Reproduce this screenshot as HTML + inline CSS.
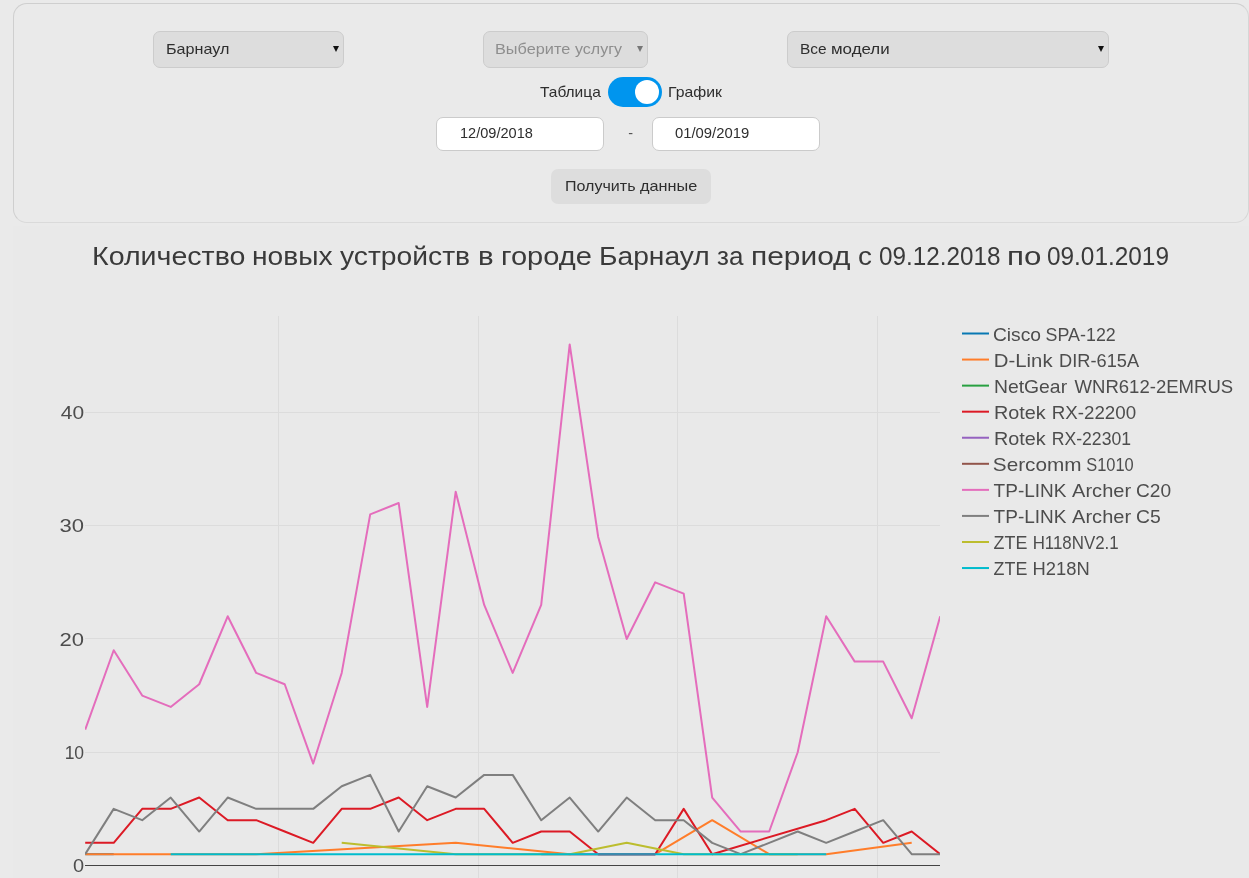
<!DOCTYPE html>
<html lang="ru">
<head>
<meta charset="utf-8">
<title>Статистика устройств</title>
<style>
html,body{margin:0;padding:0;}
body{width:1249px;height:878px;overflow:hidden;background:#eaeaea;font-family:"Liberation Sans", sans-serif;color:#2e2e2e;position:relative;}
.panel{position:absolute;left:13px;top:3px;width:1236px;height:220px;border:1px solid #cfcfcf;border-right-color:#d6d6d6;border-bottom-color:#dadada;border-radius:14px;box-sizing:border-box;}
.plotbg{position:absolute;left:13px;top:226px;width:1236px;height:652px;background:#e9e9e9;}
.sel{position:absolute;top:31px;height:37px;box-sizing:border-box;background:#dddddd;border:1px solid #cccccc;border-radius:7px;}
.arr{position:absolute;top:46px;width:0;height:0;border-left:3.2px solid transparent;border-right:3.2px solid transparent;border-top:6.2px solid #111;}
.t{position:absolute;white-space:nowrap;color:#2e2e2e;}
.t span{position:absolute;top:0;white-space:nowrap;transform-origin:0 50%;}
.tog{position:absolute;left:608px;top:76.9px;width:54.1px;height:30.6px;border-radius:16px;background:#0095ee;}
.tog i{position:absolute;left:26.9px;top:3.4px;width:24px;height:24px;border-radius:50%;background:#fff;}
.inp{position:absolute;top:117px;width:168px;height:34px;box-sizing:border-box;background:#fff;border:1px solid #cbcbcb;border-radius:7px;}
.dash{position:absolute;left:628.3px;top:122.6px;font-size:14.4px;line-height:20px;color:#555;}
.btn{position:absolute;left:551px;top:169px;width:160px;height:34.7px;border-radius:7px;background:#dddddd;}
svg{position:absolute;left:0;top:0;}
svg text{font-family:"Liberation Sans", sans-serif;font-size:18px;fill:#4d4d4d;}
</style>
</head>
<body>
<div class="plotbg"></div>
<div class="panel"></div>
<div class="sel" style="left:153px;width:191px;"></div><i class="arr" style="left:332.8px;"></i>
<div class="sel" style="left:483px;width:165px;"></div><i class="arr" style="left:637px;border-top-color:#777;"></i>
<div class="sel" style="left:787px;width:322px;"></div><i class="arr" style="left:1097.8px;"></i>
<div class="tog"><i></i></div>
<div class="inp" style="left:436px;"></div>
<div class="dash">-</div>
<div class="inp" style="left:652px;"></div>
<div class="btn"></div>
<div class="t" style="left:163.80px;top:38.91px;width:70.7px;height:20px;font-size:14.4px;line-height:20px;"><span style="left:1.88px;transform:scaleX(1.1218);">Барнаул</span></div>
<div class="t" style="left:493.60px;top:38.91px;width:133.9px;height:20px;font-size:14.4px;line-height:20px;color:#8e8e8e;"><span style="left:1.87px;transform:scaleX(1.1308);">Выберите</span> <span style="left:81.20px;transform:scaleX(1.1119);">услугу</span></div>
<div class="t" style="left:798.10px;top:38.91px;width:96.3px;height:20px;font-size:14.4px;line-height:20px;"><span style="left:1.93px;transform:scaleX(1.0739);">Все</span> <span style="left:32.73px;transform:scaleX(1.1750);">модели</span></div>
<div class="t" style="left:536.90px;top:82.11px;width:70.4px;height:20px;font-size:14.4px;line-height:20px;"><span style="left:3.00px;transform:scaleX(1.0772);">Таблица</span></div>
<div class="t" style="left:666.60px;top:82.11px;width:61.6px;height:20px;font-size:14.4px;line-height:20px;"><span style="left:1.90px;transform:scaleX(1.0958);">График</span></div>
<div class="t" style="left:458.20px;top:122.71px;width:80.8px;height:20px;font-size:14.4px;line-height:20px;"><span style="left:1.99px;transform:scaleX(1.0113);">12/09/2018</span></div>
<div class="t" style="left:671.90px;top:122.71px;width:83.2px;height:20px;font-size:14.4px;line-height:20px;"><span style="left:3.00px;transform:scaleX(1.0306);">01/09/2019</span></div>
<div class="t" style="left:562.70px;top:176.01px;width:139.4px;height:20px;font-size:14.4px;line-height:20px;"><span style="left:1.89px;transform:scaleX(1.1145);">Получить</span> <span style="left:76.90px;transform:scaleX(1.1300);">данные</span></div>
<div class="t" style="left:90.90px;top:238.26px;width:1083.3px;height:36px;font-size:25.5px;line-height:36px;color:#3a3a3a;"><span style="left:0.76px;transform:scaleX(1.1201);">Количество</span> <span style="left:160.79px;transform:scaleX(1.1056);">новых</span> <span style="left:249.30px;transform:scaleX(1.1077);">устройств</span> <span style="left:387.39px;transform:scaleX(1.1545);">в</span> <span style="left:410.22px;transform:scaleX(1.1390);">городе</span> <span style="left:508.59px;transform:scaleX(1.1052);">Барнаул</span> <span style="left:625.88px;transform:scaleX(1.0200);">за</span> <span style="left:660.06px;transform:scaleX(1.1723);">период</span> <span style="left:767.01px;transform:scaleX(1.0909);">с</span> <span style="left:787.95px;transform:scaleX(0.9516);">09.12.2018</span> <span style="left:915.94px;transform:scaleX(1.2280);">по</span> <span style="left:955.94px;transform:scaleX(0.9556);">09.01.2019</span></div>
<svg width="1249" height="878" viewBox="0 0 1249 878">
<g fill="none" stroke="#dcdcdc" stroke-width="1">
<path d="M278.5,316 V878"/>
<path d="M478.5,316 V878"/>
<path d="M677.5,316 V878"/>
<path d="M877.5,316 V878"/>
<path d="M85,752.5 H940"/>
<path d="M85,638.5 H940"/>
<path d="M85,525.5 H940"/>
<path d="M85,412.5 H940"/>
</g>
<path d="M85,865.5 H940" stroke="#444" stroke-width="1" fill="none"/>
<clipPath id="pc"><rect x="85" y="316" width="855" height="562"/></clipPath>
<g fill="none" stroke-width="2" stroke-linejoin="round" clip-path="url(#pc)">
<path d="M85.20,854.17L113.70,854.17" stroke="#0878b3"/>
<path d="M85.20,854.17L256.20,854.17L455.70,842.85L569.70,854.17L655.20,854.17L712.20,820.19L769.20,854.17L826.20,854.17L911.70,842.85" stroke="#ff7d2a"/>
<path d="M85.20,842.85L113.70,842.85L142.20,808.86L170.70,808.86L199.20,797.53L227.70,820.19L256.20,820.19L284.70,831.52L313.20,842.85L341.70,808.86L370.20,808.86L398.70,797.53L427.20,820.19L455.70,808.86L484.20,808.86L512.70,842.85L541.20,831.52L569.70,831.52L598.20,854.17L626.70,854.17L655.20,854.17L683.70,808.86L712.20,854.17L826.20,820.19L854.70,808.86L883.20,842.85L911.70,831.52L940.20,854.17" stroke="#dc1a25"/>
<path d="M541.20,854.17L655.20,854.17" stroke="#9562c0"/>
<path d="M85.20,729.57L113.70,650.28L142.20,695.59L170.70,706.91L199.20,684.26L227.70,616.29L256.20,672.93L284.70,684.26L313.20,763.55L341.70,672.93L370.20,514.35L398.70,503.02L427.20,706.91L455.70,491.69L484.20,604.97L512.70,672.93L541.20,604.97L569.70,344.43L598.20,537.00L626.70,638.95L655.20,582.31L683.70,593.64L712.20,797.53L740.70,831.52L769.20,831.52L797.70,752.23L826.20,616.29L854.70,661.61L883.20,661.61L911.70,718.24L940.20,616.29" stroke="#e46dbc"/>
<path d="M85.20,854.17L113.70,808.86L142.20,820.19L170.70,797.53L199.20,831.52L227.70,797.53L256.20,808.86L284.70,808.86L313.20,808.86L341.70,786.21L370.20,774.88L398.70,831.52L427.20,786.21L455.70,797.53L484.20,774.88L512.70,774.88L541.20,820.19L569.70,797.53L598.20,831.52L626.70,797.53L655.20,820.19L683.70,820.19L712.20,842.85L740.70,854.17L769.20,842.85L797.70,831.52L826.20,842.85L854.70,831.52L883.20,820.19L911.70,854.17L940.20,854.17" stroke="#7f7f7f"/>
<path d="M341.70,842.85L455.70,854.17L569.70,854.17L626.70,842.85L683.70,854.17L797.70,854.17" stroke="#bcbd2e"/>
<path d="M170.70,854.17L826.20,854.17" stroke="#00bccd"/>
<path d="M598.20,854.17L655.20,854.17" stroke="#3f86aa"/>
</g>
<g fill="none" stroke-width="2">
<path d="M962,333.50 H989" stroke="#0878b3"/>
<path d="M962,359.56 H989" stroke="#ff7d2a"/>
<path d="M962,385.62 H989" stroke="#28a041"/>
<path d="M962,411.68 H989" stroke="#dc1a25"/>
<path d="M962,437.74 H989" stroke="#9562c0"/>
<path d="M962,463.80 H989" stroke="#91544a"/>
<path d="M962,489.86 H989" stroke="#e46dbc"/>
<path d="M962,515.92 H989" stroke="#7f7f7f"/>
<path d="M962,541.98 H989" stroke="#bcbd2e"/>
<path d="M962,568.04 H989" stroke="#00bccd"/>
</g>
<g>
<text transform="translate(73.00,872.2) scale(1.1100,1)">0</text>
<text transform="translate(64.63,758.9) scale(0.9737,1)">10</text>
<text transform="translate(59.57,645.7) scale(1.2263,1)">20</text>
<text transform="translate(59.57,532.4) scale(1.2263,1)">30</text>
<text transform="translate(60.80,419.1) scale(1.1650,1)">40</text>
</g>
<g>
<text transform="translate(992.93,341.1) scale(1.0698,1)">Cisco</text>
<text transform="translate(1045.61,341.1) scale(0.9928,1)">SPA-122</text>
<text transform="translate(993.87,367.1) scale(1.1294,1)">D-Link</text>
<text transform="translate(1059.09,367.1) scale(1.0128,1)">DIR-615A</text>
<text transform="translate(993.92,393.1) scale(1.0761,1)">NetGear</text>
<text transform="translate(1074.50,393.1) scale(1.0307,1)">WNR612-2EMRUS</text>
<text transform="translate(993.90,419.1) scale(1.1000,1)">Rotek</text>
<text transform="translate(1051.66,419.1) scale(1.0425,1)">RX-22200</text>
<text transform="translate(993.90,445.1) scale(1.1000,1)">Rotek</text>
<text transform="translate(1051.72,445.1) scale(0.9797,1)">RX-22301</text>
<text transform="translate(992.85,471.1) scale(1.1533,1)">Sercomm</text>
<text transform="translate(1086.19,471.1) scale(0.9137,1)">S1010</text>
<text transform="translate(993.60,497.1) scale(1.0565,1)">TP-LINK</text>
<text transform="translate(1072.10,497.1) scale(1.1132,1)">Archer</text>
<text transform="translate(1136.04,497.1) scale(1.0625,1)">C20</text>
<text transform="translate(993.60,523.1) scale(1.0565,1)">TP-LINK</text>
<text transform="translate(1072.10,523.1) scale(1.1132,1)">Archer</text>
<text transform="translate(1136.02,523.1) scale(1.0762,1)">C5</text>
<text transform="translate(993.60,549.1) scale(0.9939,1)">ZTE</text>
<text transform="translate(1032.66,549.1) scale(0.9389,1)">H118NV2.1</text>
<text transform="translate(993.60,575.1) scale(0.9939,1)">ZTE</text>
<text transform="translate(1032.58,575.1) scale(1.0204,1)">H218N</text>
</g>
</svg>
</body>
</html>
